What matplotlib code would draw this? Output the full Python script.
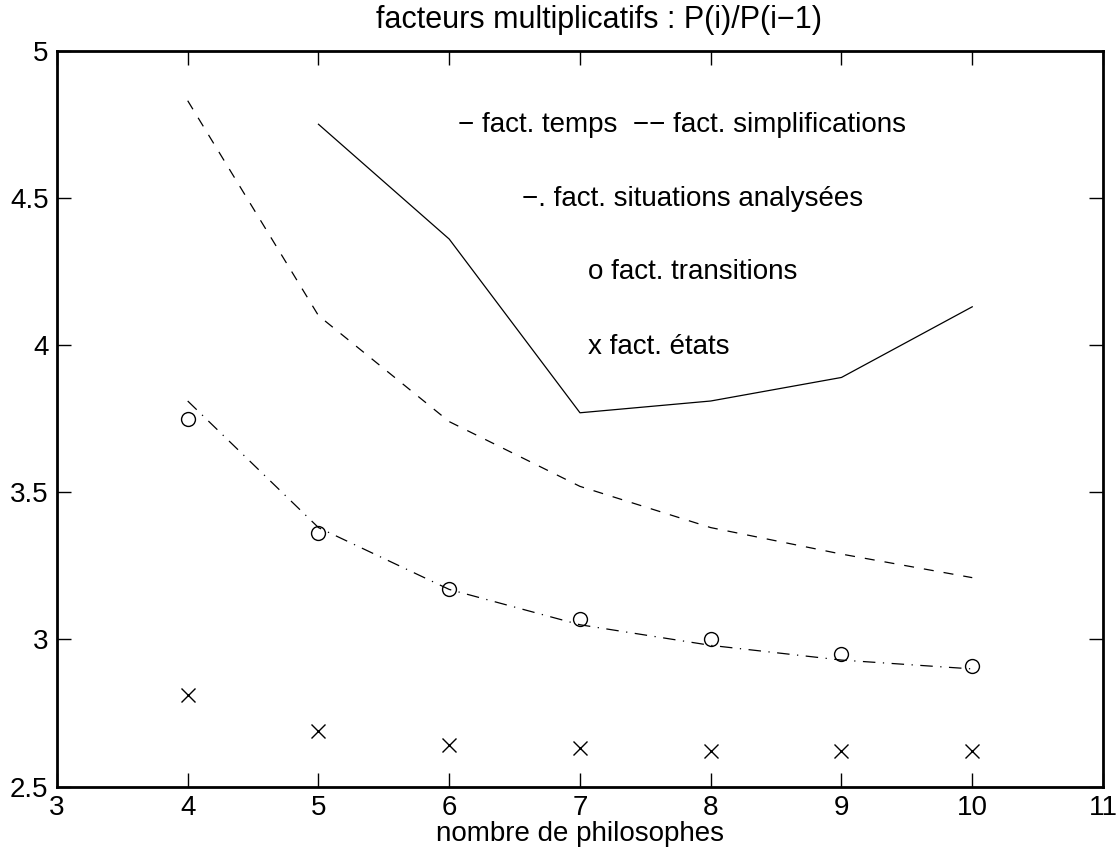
import matplotlib
matplotlib.use("Agg")
import matplotlib.pyplot as plt

# nombre de philosophes
n_temps = [5, 6, 7, 8, 9, 10]
f_temps = [4.75, 4.36, 3.77, 3.81, 3.89, 4.13]

n_simpl = [4, 5, 6, 7, 8, 9, 10]
f_simpl = [4.83, 4.10, 3.74, 3.52, 3.38, 3.29, 3.21]

n_situ = [4, 5, 6, 7, 8, 9, 10]
f_situ = [3.81, 3.38, 3.17, 3.05, 2.98, 2.93, 2.90]

n_trans = [4, 5, 6, 7, 8, 9, 10]
f_trans = [3.75, 3.36, 3.17, 3.07, 3.00, 2.95, 2.91]

n_etats = [4, 5, 6, 7, 8, 9, 10]
f_etats = [2.81, 2.69, 2.64, 2.63, 2.62, 2.62, 2.62]

plt.rcParams["font.family"] = ["Liberation Sans", "DejaVu Sans"]

fig = plt.figure(figsize=(11.19, 8.5), dpi=100)
ax = fig.add_axes([0.0509, 0.0745, 0.9348, 0.8659])

lw = 0.9
ax.plot(n_temps, f_temps, "-", c="k", lw=lw)
ax.plot(n_simpl, f_simpl, c="k", lw=lw, ls=(0, (8, 8)))
ax.plot(n_situ, f_situ, c="k", lw=lw, ls=(0, (10, 6, 1, 6)))
ax.plot(n_trans, f_trans, "o", ms=10, mfc="none", mec="k", mew=1.0)
ax.plot(n_etats, f_etats, "x", ms=10, mec="k", mew=1.0)

fs = 20
ax.text(6.07, 4.748, "− fact. temps  −− fact. simplifications", fontsize=fs, va="center", ha="left")
ax.text(6.56, 4.496, "−. fact. situations analysées", fontsize=fs, va="center", ha="left")
ax.text(7.06, 4.248, "o fact. transitions", fontsize=fs, va="center", ha="left")
ax.text(7.06, 3.994, "x fact. états", fontsize=fs, va="center", ha="left")

ax.set_xlim(3, 11)
ax.set_ylim(2.5, 5)
ax.set_xticks(range(3, 12))
ax.set_yticks([2.5, 3, 3.5, 4, 4.5, 5])
ax.set_yticklabels(["2.5", "3", "3.5", "4", "4.5", "5"])
ax.tick_params(direction="in", length=10, width=1.0, top=True, right=True,
               labelsize=20, pad=6)
for s in ax.spines.values():
    s.set_linewidth(2.0)

fig.text(0.535, 0.977, "facteurs multiplicatifs : P(i)/P(i−1)", fontsize=22,
         ha="center", va="center")
ax.set_xlabel("nombre de philosophes", fontsize=fs, labelpad=0)

fig.savefig("out.png", dpi=100)
